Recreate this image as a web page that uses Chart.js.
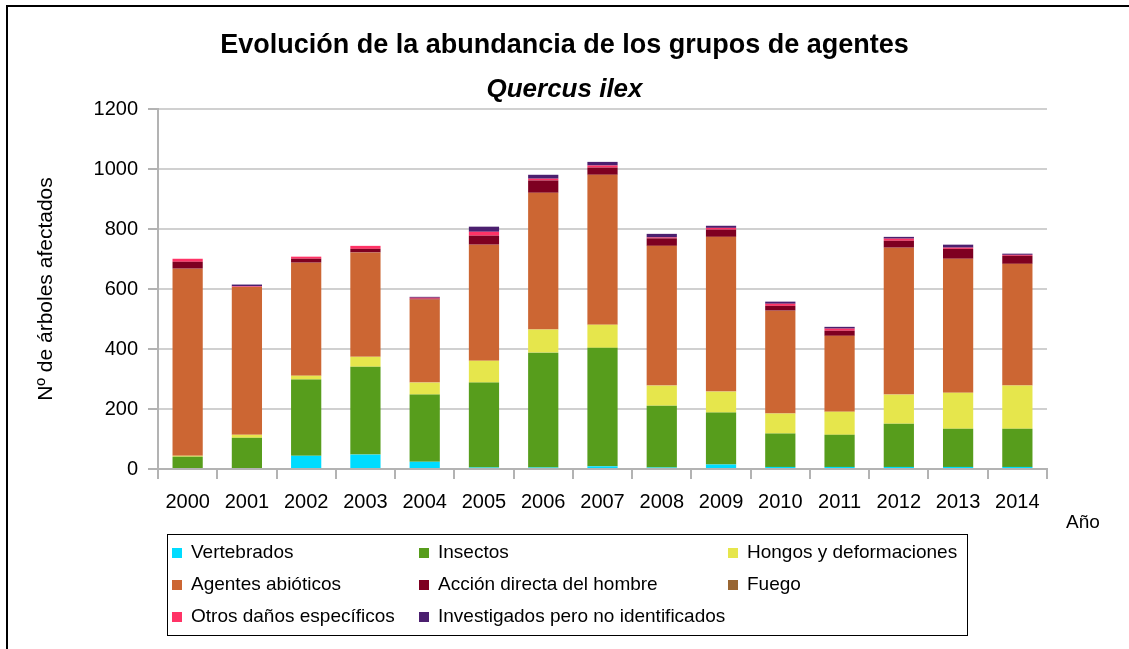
<!DOCTYPE html>
<html><head><meta charset="utf-8">
<script src="https://cdn.jsdelivr.net/npm/chart.js@4"></script>
<style>
html,body{margin:0;padding:0;background:#fff;}
#wrap{position:relative;width:1129px;height:649px;overflow:hidden;font-family:'Liberation Sans',Arial,sans-serif;background:#fff;}
#frame{position:absolute;left:6px;top:5px;width:1140px;height:700px;border-left:2px solid #000;border-top:2px solid #000;}
#c{position:absolute;left:0;top:0;}
#legend{position:absolute;left:167px;top:534px;width:801px;height:102px;border:1px solid #000;box-sizing:border-box;}
.item{position:absolute;font-size:19px;color:#000;line-height:22px;white-space:nowrap;}
.sw{display:inline-block;width:10px;height:10px;margin-right:9px;vertical-align:0px;}
#ano{position:absolute;left:1066px;top:511px;font-size:19px;color:#000;}
</style></head>
<body>
<div id="wrap">
  <div id="frame"></div>
  <canvas id="c" width="1129" height="649"></canvas>
  <div id="legend"></div>
  <div id="ano">Año</div>
</div>
<script>
const years = ['2000','2001','2002','2003','2004','2005','2006','2007','2008','2009','2010','2011','2012','2013','2014'];
const vertebrados  = [0, 0, 44, 48, 24, 5, 5, 9, 5, 15, 7, 7, 7, 7, 7];
const insectos     = [41, 104, 254, 293, 224, 283, 383, 395, 206, 173, 111, 107, 144, 127, 127];
const hongos       = [3, 10, 13, 33, 40, 73, 77, 77, 67, 70, 67, 77, 97, 120, 144];
const abioticos    = [624, 493, 377, 348, 277, 387, 456, 500, 466, 516, 343, 253, 490, 447, 406];
const accion       = [23, 0, 13, 12, 3, 30, 41, 24, 25, 24, 16, 17, 23, 33, 27];
const fuego        = [0, 0, 0, 0, 0, 0, 0, 0, 0, 0, 0, 0, 0, 0, 0];
const otros        = [10, 2, 7, 10, 3, 13, 6, 7, 3, 6, 7, 7, 7, 4, 3];
const investigados = [0, 6, 0, 0, 3, 17, 13, 12, 12, 7, 7, 6, 6, 10, 4];

const seriesNames = ['Vertebrados','Insectos','Hongos y deformaciones','Agentes abióticos','Acción directa del hombre','Fuego','Otros daños específicos','Investigados pero no identificados'];
const seriesValues = [vertebrados, insectos, hongos, abioticos, accion, fuego, otros, investigados];
const seriesColors = ['#00dcff','#579d1c','#e6e64c','#cc6633','#7e0021','#996633','#ff3366','#4b1f6f'];

const yTicks = [0, 200, 400, 600, 800, 1000, 1200];
const FONT = "'Liberation Sans', Arial, sans-serif";

// legend (HTML)
const legendPos = [[4,18],[251,18],[560,18],[4,50],[251,50],[560,50],[4,82],[251,82]];
const lg = document.getElementById('legend');
seriesNames.forEach((n,i)=>{
  const d = document.createElement('div');
  d.className = 'item';
  d.style.left = legendPos[i][0] + 'px';
  d.style.top = (legendPos[i][1] - 11 - 1) + 'px';
  d.innerHTML = '<span class="sw" style="background:' + seriesColors[i] + '"></span>' + n;
  lg.appendChild(d);
});

new Chart(document.getElementById('c').getContext('2d'), {
  type: 'bar',
  data: {
    labels: years,
    datasets: seriesNames.map((n,i)=>({
      label: n, data: seriesValues[i], backgroundColor: seriesColors[i],
      borderWidth: 0, barPercentage: 0.51, categoryPercentage: 1
    }))
  },
  options: {
    responsive: false, animation: false,
    layout: { padding: { left: 0, right: 0, top: 0, bottom: 0 } },
    plugins: {
      legend: { display: false },
      tooltip: { enabled: false },
      title: { display: true, text: 'Evolución de la abundancia de los grupos de agentes',
        font: { family: FONT, size: 27, weight: 'bold' }, color: '#000', padding: { top: 29, bottom: 0 } },
      subtitle: { display: true, text: 'Quercus ilex',
        font: { family: FONT, size: 26, weight: 'bold', style: 'italic' }, color: '#000', padding: { top: 13, bottom: 3.5 } }
    },
    scales: {
      x: {
        stacked: true,
        grid: { display: true, drawOnChartArea: false, drawTicks: true, tickLength: 10, color: '#b3b3b3', lineWidth: 2, offset: true },
        border: { color: '#b3b3b3', width: 2 },
        ticks: { font: { family: FONT, size: 20 }, color: '#000', padding: 11, maxRotation: 0 },
        afterFit(s) { s.height = 180; }
      },
      y: {
        stacked: true, min: 0, max: 1200,
        afterBuildTicks(s) { s.ticks = yTicks.map(v => ({ value: v })); },
        ticks: { font: { family: FONT, size: 20 }, color: '#000', padding: 10, callback: v => String(v) },
        grid: { color: '#d0d0d0', lineWidth: 2, tickLength: 10, tickColor: '#b3b3b3' },
        border: { color: '#b3b3b3', width: 2 },
        title: { display: true, text: 'Nº de árboles afectados', font: { family: FONT, size: 21 }, color: '#000', padding: { top: 34, bottom: 0 } },
        afterFit(s) { s.width = 158; }
      },
      yRight: {
        position: 'right', display: true, min: 0, max: 1200,
        grid: { display: false, drawTicks: false }, border: { display: false },
        ticks: { display: false },
        afterFit(s) { s.width = 82; }
      }
    }
  }
});
</script>
</body></html>
